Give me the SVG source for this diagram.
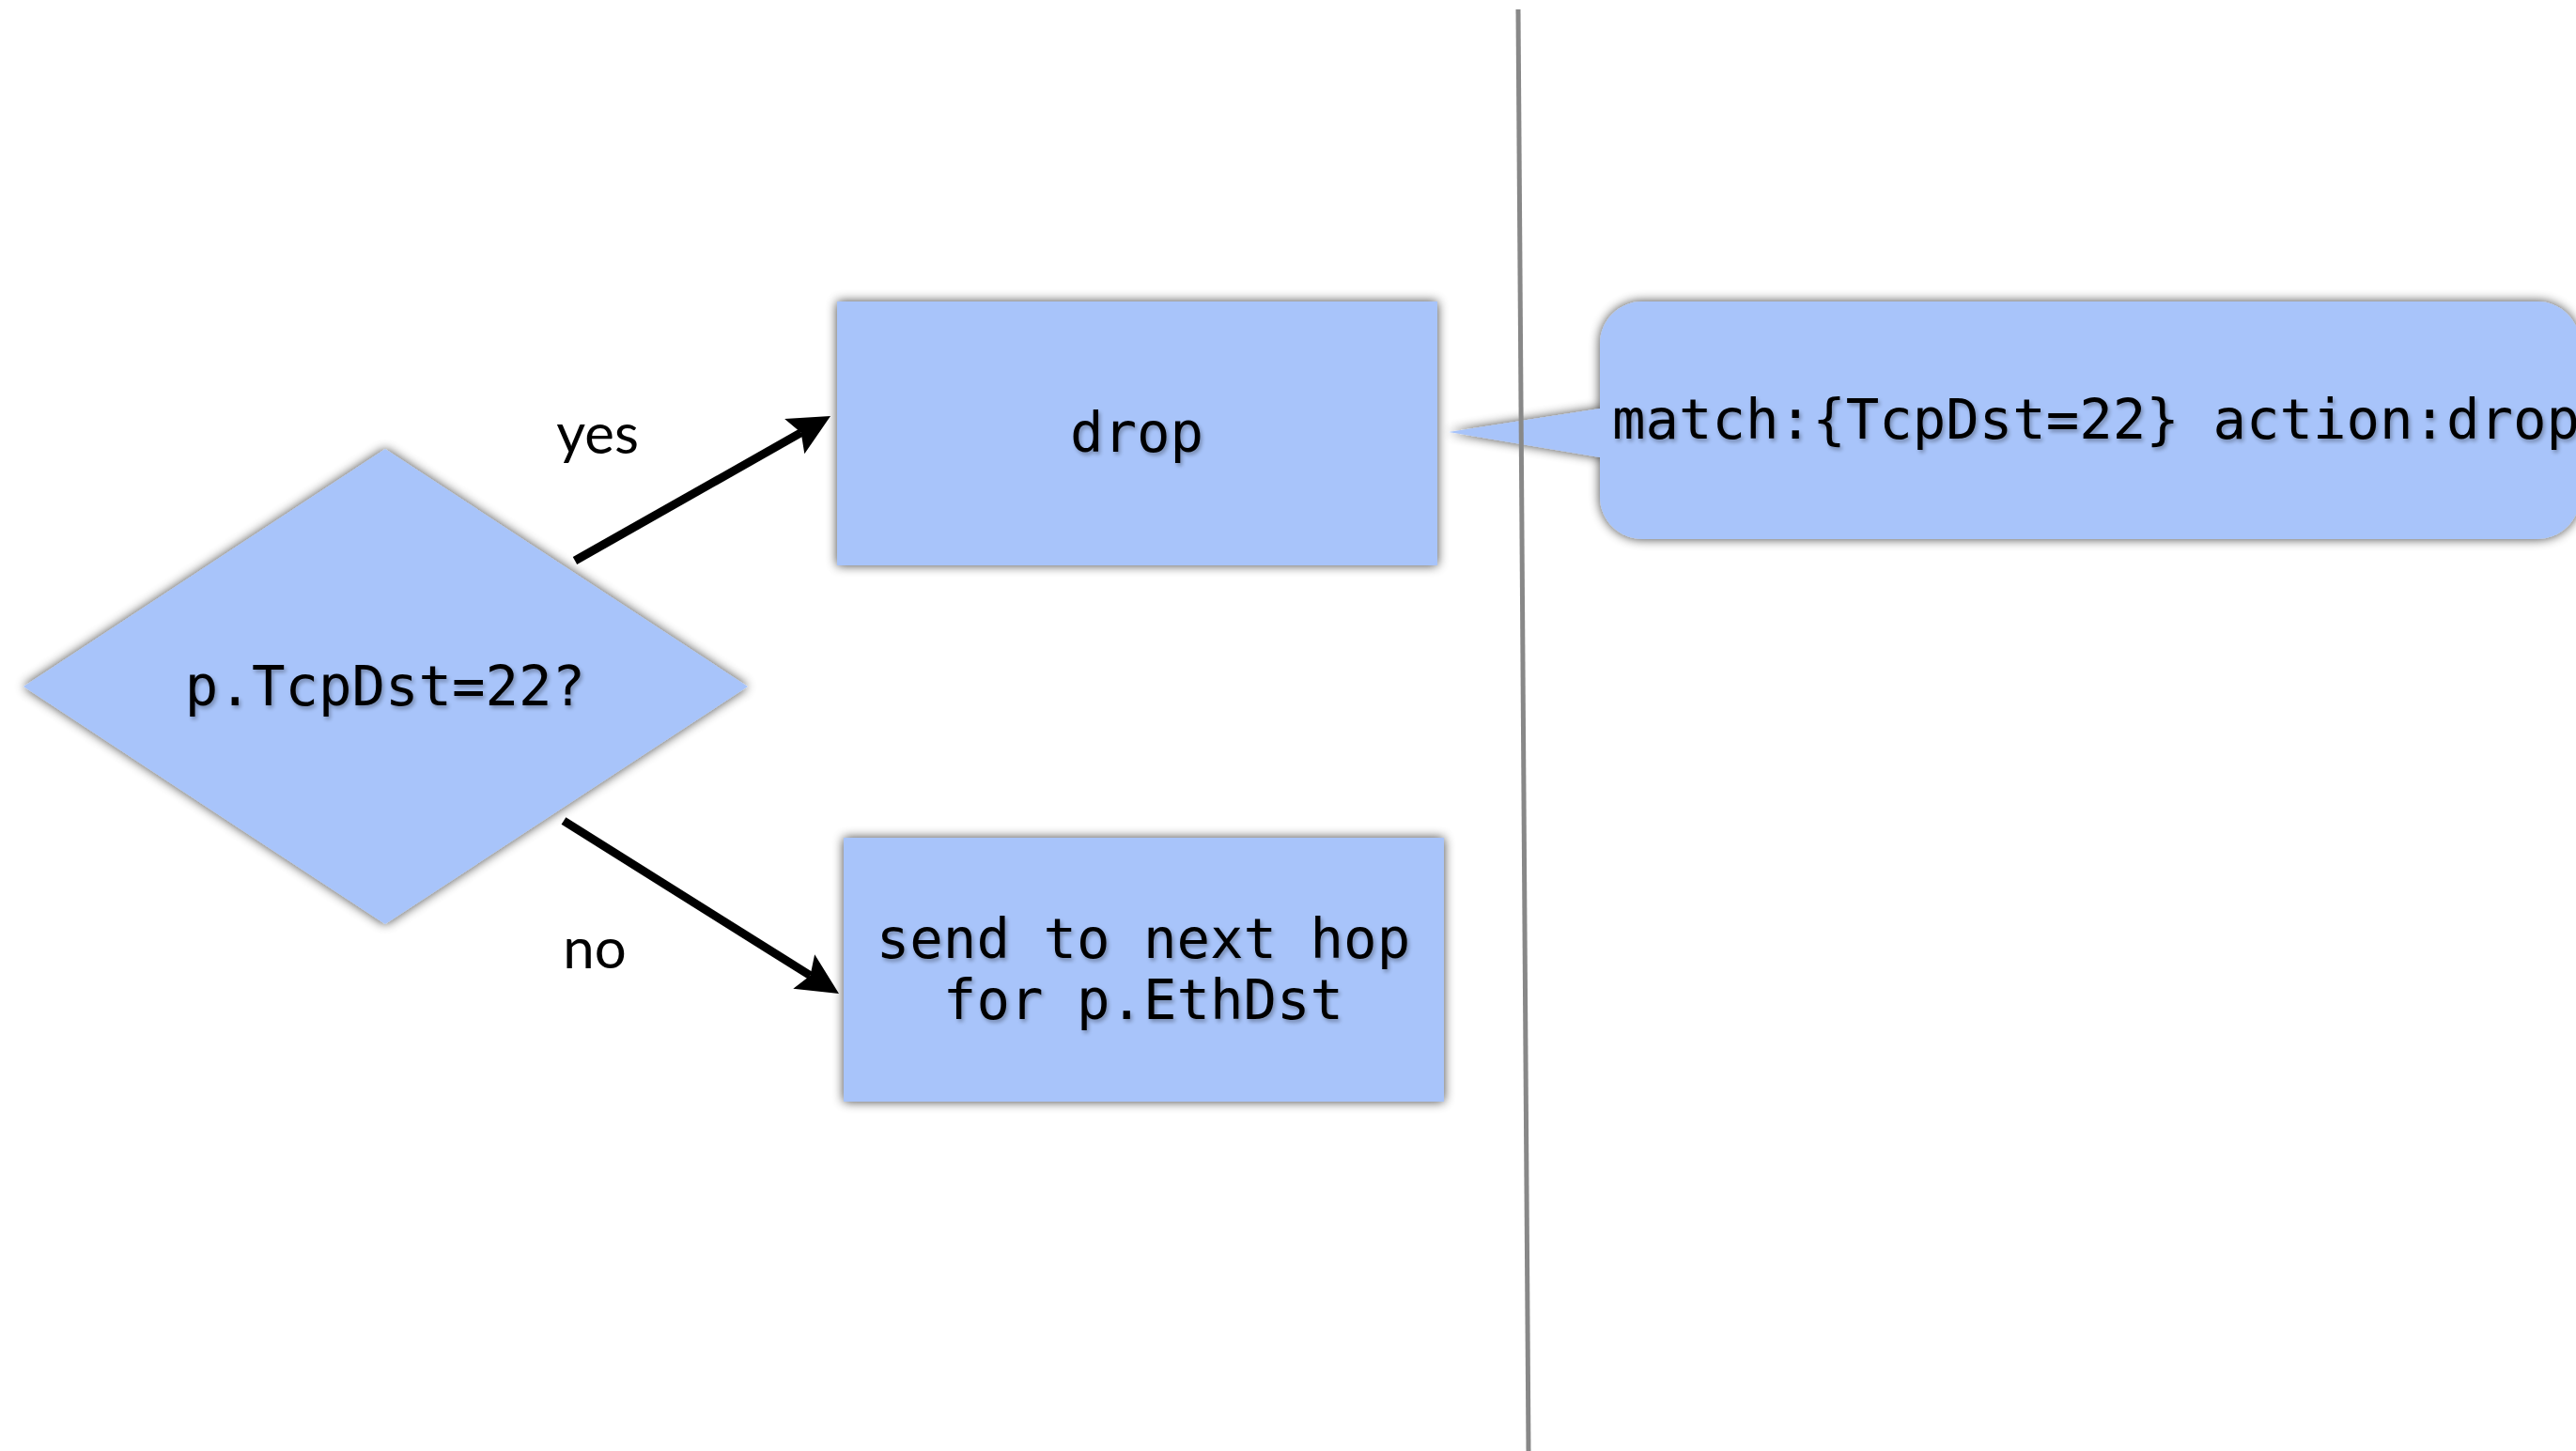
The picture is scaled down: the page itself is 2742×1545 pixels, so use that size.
<svg xmlns="http://www.w3.org/2000/svg" width="2742" height="1545" viewBox="0 0 2742 1545">
  <style>
    .shape { fill: #A8C4FA; filter: url(#shapeShadow); }
    .code { font-family: "DejaVu Sans Mono", "Liberation Mono", monospace; font-size: 59px; fill: #000; filter: url(#textShadow); }
    .label { font-family: Lato, "Open Sans", sans-serif; font-size: 60px; fill: #000; text-anchor: middle; }
    .edge { stroke: #000; stroke-width: 9; fill: none; marker-end: url(#arrowHead); }
    .divider { stroke: #888; stroke-width: 5; }
  </style>
  <defs>
    <filter id="shapeShadow" x="-10%" y="-10%" width="120%" height="120%">
      <feGaussianBlur in="SourceAlpha" stdDeviation="6"/>
      <feComponentTransfer><feFuncA type="linear" slope="0.75"/></feComponentTransfer>
      <feMerge><feMergeNode/><feMergeNode in="SourceGraphic"/></feMerge>
    </filter>
    <filter id="textShadow" x="-5%" y="-20%" width="110%" height="140%">
      <feGaussianBlur in="SourceAlpha" stdDeviation="2"/>
      <feOffset dx="2" dy="3" result="off"/>
      <feComponentTransfer><feFuncA type="linear" slope="0.3"/></feComponentTransfer>
      <feMerge><feMergeNode/><feMergeNode in="SourceGraphic"/></feMerge>
    </filter>
    <!-- notched arrowhead; the line ends at the notch, the tip lies 36px further on -->
    <marker id="arrowHead" markerUnits="userSpaceOnUse" viewBox="-10 -24 50 48" refX="0" refY="0" markerWidth="50" markerHeight="48" orient="auto">
      <path d="M36,0 L-8,-21.5 L0,0 L-8,21.5 Z" fill="#000"/>
    </marker>
  </defs>

  <!-- decision -->
  <g id="decision">
    <polygon class="shape" points="410,478 796,731 410,984 25,731"/>
    <text class="code" x="410" y="751" text-anchor="middle">p.TcpDst=22?</text>
  </g>

  <!-- drop action -->
  <g id="drop">
    <rect class="shape" x="891" y="321" width="639" height="281"/>
    <text class="code" x="1210" y="481" text-anchor="middle">drop</text>
  </g>

  <!-- forward action -->
  <g id="send-next-hop">
    <rect class="shape" x="898" y="892" width="639" height="281"/>
    <text class="code" x="1217" y="1020" text-anchor="middle">send to next hop</text>
    <text class="code" x="1217" y="1085" text-anchor="middle">for p.EthDst</text>
  </g>

  <!-- flow table rule callout -->
  <g id="flow-rule">
    <path class="shape" d="M1748,321 H2701 A45,45 0 0 1 2746,366 V529 A45,45 0 0 1 2701,574 H1748 A45,45 0 0 1 1703,529 V487 L1542,460 L1703,435 V366 A45,45 0 0 1 1748,321 Z"/>
    <text class="code" x="1716" y="467">match:{TcpDst=22} action:drop</text>
  </g>

  <!-- connectors -->
  <g id="connectors">
    <line class="edge" x1="612" y1="597" x2="852.7" y2="460.7"/>
    <text class="label" x="636" y="483">yes</text>
    <line class="edge" x1="600" y1="874" x2="862.5" y2="1038.8"/>
    <text class="label" x="633" y="1031">no</text>
  </g>

  <!-- divider between program and flow table -->
  <line class="divider" x1="1616" y1="10" x2="1627" y2="1545"/>
</svg>
